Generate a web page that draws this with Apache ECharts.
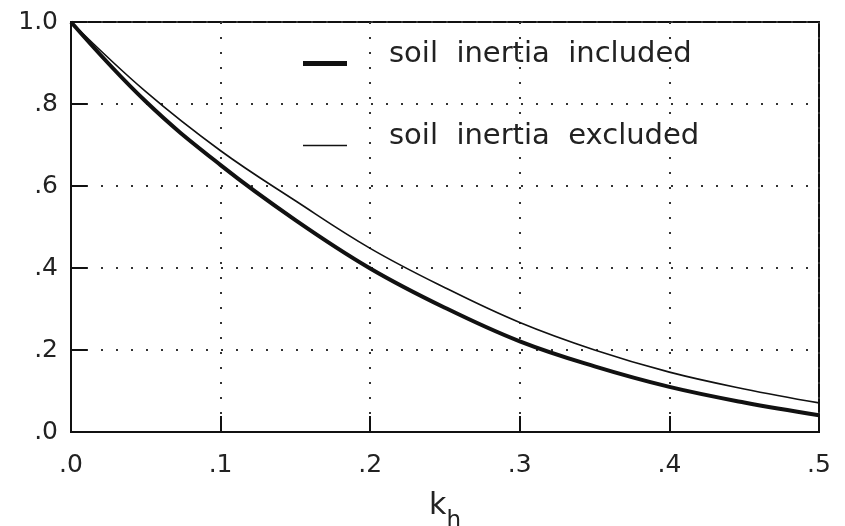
<!DOCTYPE html>
<html><head><meta charset="utf-8">
<script src="https://cdn.jsdelivr.net/npm/echarts@6/dist/echarts.min.js"></script>
<style>html,body{margin:0;padding:0;background:#fff}#c{width:845px;height:526px}</style>
</head><body><div id="c"></div>
<script>
const kh = [0, 0.05, 0.1, 0.15, 0.2, 0.25, 0.3, 0.35, 0.4, 0.45, 0.5];
const included = [1.0, 0.806, 0.651, 0.517, 0.399, 0.303, 0.221, 0.16, 0.11, 0.072, 0.041];
const excluded = [1.0, 0.83, 0.686, 0.564, 0.448, 0.352, 0.267, 0.2, 0.146, 0.105, 0.071];
const xTickLabels = ['.0', '.1', '.2', '.3', '.4', '.5'];
const yTickLabels = ['.0', '.2', '.4', '.6', '.8', '1.0'];
const seriesNames = ['soil  inertia  included', 'soil  inertia  excluded'];

const font = 'DejaVu Sans';
const legendText = {
  fontFamily: font, fontSize: 29, color: '#222', padding: [0, 0, 0, 37],
  rich: {a: {fontFamily: font, fontSize: 29, color: '#222', lineHeight: 30}, b: {fontSize: 10, lineHeight: 18}}
};
const legendFmt = (n) => '{a|' + n + '}\n{b| }';
const chart = echarts.init(document.getElementById('c'), null, {renderer: 'canvas'});
chart.setOption({
  animation: false,
  backgroundColor: '#fff',
  grid: {left: 71, right: 26, top: 22, bottom: 94, show: true, borderColor: '#111', borderWidth: 2,
    containLabel: false, outerBoundsMode: 'none'},
  legend: [
    {left: 298, top: 35, itemWidth: 44, itemHeight: 5, icon: 'rect', data: [seriesNames[0]],
      formatter: legendFmt, textStyle: legendText, selectedMode: false, itemStyle: {color: '#111'}},
    {left: 298, top: 117, itemWidth: 44, itemHeight: 1.6, icon: 'rect', data: [seriesNames[1]],
      formatter: legendFmt, textStyle: legendText, selectedMode: false, itemStyle: {color: '#111'}}
  ],
  xAxis: {
    type: 'value', min: 0, max: 0.5, interval: 0.1,
    axisLine: {show: true, lineStyle: {color: '#111', width: 2}},
    axisTick: {show: true, inside: true, length: 16, lineStyle: {color: '#111', width: 2}},
    axisLabel: {fontFamily: font, fontSize: 25, color: '#222', margin: 21,
      formatter: (v) => xTickLabels[Math.round(v * 10)]},
    splitLine: {show: true, lineStyle: {color: '#333', width: 2, type: [2, 13]}},
    name: '{k|k}{h|h}', nameLocation: 'middle', nameGap: 59,
    nameTextStyle: {rich: {
      k: {fontFamily: font, fontSize: 30, color: '#222', lineHeight: 32, verticalAlign: 'top'},
      h: {fontFamily: font, fontSize: 23, color: '#222', lineHeight: 42, verticalAlign: 'bottom'}
    }}
  },
  yAxis: {
    type: 'value', min: 0, max: 1, interval: 0.2,
    axisLine: {show: true, lineStyle: {color: '#111', width: 2}},
    axisTick: {show: true, inside: true, length: 16, lineStyle: {color: '#111', width: 2}},
    axisLabel: {fontFamily: font, fontSize: 25, color: '#222', margin: 13,
      formatter: (v) => yTickLabels[Math.round(v * 5)]},
    splitLine: {show: true, lineStyle: {color: '#333', width: 2, type: [2, 13]}}
  },
  series: [
    {name: seriesNames[0], type: 'line', smooth: 0.4, symbol: 'none',
      lineStyle: {color: '#111', width: 4}, itemStyle: {color: '#111'},
      data: kh.map((k, i) => [k, included[i]])},
    {name: seriesNames[1], type: 'line', smooth: 0.4, symbol: 'none',
      lineStyle: {color: '#111', width: 1.6}, itemStyle: {color: '#111'},
      data: kh.map((k, i) => [k, excluded[i]])}
  ]
});
</script>
</body></html>
